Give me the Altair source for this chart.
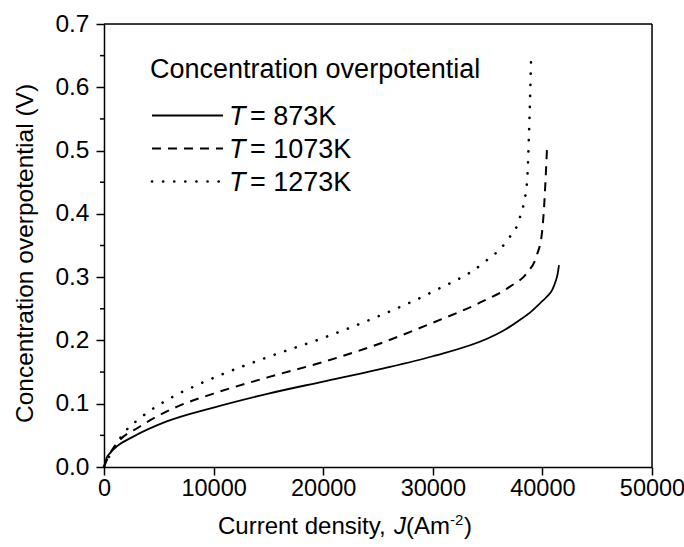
import altair as alt
import pandas as pd

# ---- data ----
J_873 = [0, 250, 550, 1200, 2670, 5720, 10000, 15000, 20000, 25000, 30000, 35000, 36500, 38000,
         39000, 39800, 40400, 40900, 41200, 41400, 41515]
V_873 = [0, 0.015, 0.022, 0.033, 0.048, 0.072, 0.094, 0.116, 0.135, 0.154, 0.175, 0.203, 0.216, 0.233,
         0.246, 0.259, 0.269, 0.280, 0.293, 0.306, 0.319]

J_1073 = [0, 500, 1160, 3280, 6630, 10000, 15000, 20000, 25000, 30000, 34580, 37040, 38600, 39500, 39960, 40150, 40420]
V_1073 = [0, 0.020, 0.037, 0.064, 0.095, 0.116, 0.142, 0.166, 0.194, 0.228, 0.262, 0.285, 0.307, 0.335, 0.370, 0.410, 0.504]

J_1273 = [0, 550, 1920, 2980, 4040, 6170, 8300, 10430, 15000, 20000, 25000, 30000, 34580, 36770, 37960, 38590, 38780, 38960]
V_1273 = [0, 0.019, 0.056, 0.073, 0.087, 0.110, 0.128, 0.144, 0.174, 0.204, 0.238, 0.277, 0.322, 0.358, 0.395, 0.449, 0.528, 0.640]

series_labels = ["= 873K", "= 1073K", "= 1273K"]
legend_title = "Concentration overpotential"
x_ticks = [0, 10000, 20000, 30000, 40000, 50000]
y_ticks = [0.0, 0.1, 0.2, 0.3, 0.4, 0.5, 0.6, 0.7]
y_minor = [0.05, 0.15, 0.25, 0.35, 0.45, 0.55, 0.65]
y_title = "Concentration overpotential (V)"
x_title_parts = ["Current density, ", "J", "(Am", "-2", ")"]

FONT = "Liberation Sans"
W, H = 548, 443

x_enc = alt.X("J:Q", scale=alt.Scale(domain=[0, 50000], nice=False),
              axis=alt.Axis(values=x_ticks, format="d", title=None, grid=False,
                            labelFont=FONT, labelFontSize=23.5, labelColor="black",
                            labelPadding=1, labelFlush=False,
                            tickColor="black", tickSize=8, tickWidth=1.5,
                            domainColor="black", domainWidth=1.5))
y_enc = alt.Y("V:Q", scale=alt.Scale(domain=[0, 0.7], nice=False),
              axis=alt.Axis(values=y_ticks, format=".1f", title=y_title, grid=False,
                            labelFont=FONT, labelFontSize=24.5, labelColor="black",
                            labelPadding=7, labelFlush=False,
                            tickColor="black", tickSize=8, tickWidth=1.5,
                            domainColor="black", domainWidth=1.5,
                            titleFont=FONT, titleFontSize=24.5, titleFontWeight="normal",
                            titleColor="black", titleX=-72, titleY=229, titleAngle=270,
                            titleAlign="center", titleBaseline="alphabetic"))

styles = [
    dict(strokeWidth=1.8),
    dict(strokeWidth=2.0, strokeDash=[9, 7]),
    dict(strokeWidth=2.6, strokeDash=[0.1, 11], strokeCap="round"),
]
series = [(J_873, V_873), (J_1073, V_1073), (J_1273, V_1273)]

layers = []
for (J, V), st in zip(series, styles):
    df = pd.DataFrame({"J": J, "V": V})
    layers.append(alt.Chart(df).mark_line(color="black", interpolate="monotone", **st)
                  .encode(x=x_enc, y=y_enc))

# minor ticks on y axis
layers.append(alt.Chart(pd.DataFrame({"V": y_minor})).mark_rule(color="black", strokeWidth=1.5)
              .encode(y=y_enc, x=alt.value(-4), x2=alt.value(0)))

# frame: top and right edges
one = pd.DataFrame({"a": [0]})
layers.append(alt.Chart(one).mark_rule(color="black", strokeWidth=1.5)
              .encode(x=alt.value(0), x2=alt.value(W), y=alt.value(0)))
layers.append(alt.Chart(one).mark_rule(color="black", strokeWidth=1.5)
              .encode(x=alt.value(W), y=alt.value(0), y2=alt.value(H)))


def text_layer(s, x, y, size=27, style="normal", align="left", baseline="alphabetic"):
    return (alt.Chart(pd.DataFrame({"t": [s]}))
            .mark_text(font=FONT, fontSize=size, fontStyle=style, align=align,
                       baseline=baseline, color="black")
            .encode(text="t:N", x=alt.value(x), y=alt.value(y)))


# legend
layers.append(text_layer(legend_title, 46, 54))
for i, (lab, st) in enumerate(zip(series_labels, styles)):
    base = 101 + 33 * i
    ly = base - 9.5
    layers.append(alt.Chart(one).mark_rule(color="black", **st)
                  .encode(x=alt.value(48), x2=alt.value(119), y=alt.value(ly)))
    layers.append(text_layer("T", 125, base, style="italic"))
    layers.append(text_layer(lab, 146, base))

# x-axis title pieces
layers.append(text_layer(x_title_parts[0], 114, 510, size=24))
layers.append(text_layer(x_title_parts[1], 290, 510, size=24, style="italic"))
layers.append(text_layer(x_title_parts[2], 302, 510, size=24))
layers.append(text_layer(x_title_parts[3], 346, 501, size=15))
layers.append(text_layer(x_title_parts[4], 360, 510, size=24))

chart = (alt.layer(*layers)
         .properties(width=W, height=H,
                     autosize=alt.AutoSizeParams(type="none"),
                     padding={"left": 104, "top": 24, "right": 32, "bottom": 80})
         .configure_view(stroke=None)
         .configure(background="white"))

chart.save("out.html", embed_options={"renderer": "svg", "actions": False})
